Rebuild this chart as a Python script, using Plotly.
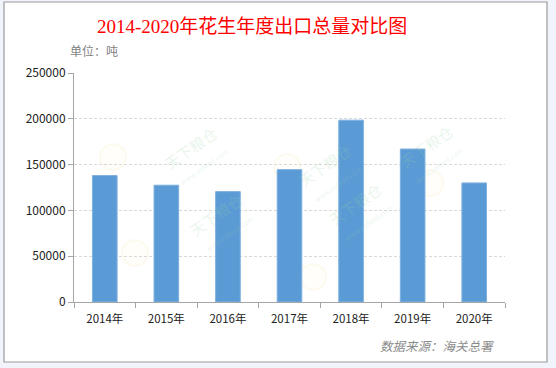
import plotly.graph_objects as go

years = ["2014年", "2015年", "2016年", "2017年", "2018年", "2019年", "2020年"]
exports = [138000, 127500, 120500, 144500, 198500, 167000, 130000]
y_ticks = [0, 50000, 100000, 150000, 200000, 250000]

W, H = 556, 368
L, R, T, B = 74, 505, 73, 302
pw, ph = R - L, B - T

def px(x):
    return (x - L) / pw

def py(y):
    return (B - y) / ph

fig = go.Figure()
fig.add_trace(go.Bar(
    x=years, y=exports,
    marker=dict(color="#5b9bd5", line=dict(color="#7fb0de", width=1)),
    width=0.4,
    hoverinfo="x+y",
))

shapes = [
    dict(type="rect", xref="paper", yref="paper",
         x0=px(4), x1=px(547), y0=py(362), y1=py(2),
         fillcolor="white", line=dict(color="#9a9a9a", width=1.2), layer="below"),
]

annotations = [
    dict(text="2014-2020年花生年度出口总量对比图", xref="paper", yref="paper",
         x=px(252), y=py(26), showarrow=False, xanchor="center", yanchor="middle",
         font=dict(family="Liberation Serif, Noto Sans CJK SC", size=19, color="#ff0000")),
    dict(text="单位：吨", xref="paper", yref="paper",
         x=px(68), y=py(50), showarrow=False, xanchor="left", yanchor="middle",
         font=dict(family="Noto Sans CJK SC", size=12, color="#7f7f7f")),
    dict(text="<i>数据来源：海关总署</i>", xref="paper", yref="paper",
         x=px(496), y=py(345), showarrow=False, xanchor="right", yanchor="middle",
         font=dict(family="Noto Sans CJK SC", size=12.5, color="#8c8c8c")),
]

# faint watermarks
marks = [(157, 120, 113, 157), (182, 222, 135, 253), (330, 137, 287, 167),
         (470, 153, 430, 183), (360, 247, 313, 277)]
for tx, ty, lx, ly in marks:
    annotations.append(dict(
        text="天下粮仓<br><span style='font-size:7px'>www.cofeed.com</span>",
        xref="paper", yref="paper", x=px(tx), y=py(ty), showarrow=False,
        textangle=-35, font=dict(family="Noto Sans CJK SC", size=15, color="rgba(150,210,160,0.22)")))
    shapes.append(dict(type="circle", xref="paper", yref="paper",
                       x0=px(lx - 13), x1=px(lx + 13), y0=py(ly + 13), y1=py(ly - 13),
                       line=dict(color="rgba(240,220,150,0.14)", width=2),
                       fillcolor="rgba(250,240,190,0.06)", layer="below"))

fig.update_layout(
    width=W, height=H,
    margin=dict(l=L, r=W - R, t=T, b=H - B, pad=0),
    paper_bgcolor="#f1f5fb",
    plot_bgcolor="rgba(0,0,0,0)",
    showlegend=False,
    bargap=0.6,
    shapes=shapes,
    annotations=annotations,
    font=dict(family="Noto Sans CJK SC, Liberation Sans", size=11, color="#333333"),
)
fig.update_xaxes(
    type="category", tickson="boundaries", ticks="outside", ticklen=5,
    tickcolor="#a6a6a6", showline=True, linecolor="#a6a6a6", linewidth=1,
    showgrid=False, tickfont=dict(size=11.5, color="#222222"), ticklabelstandoff=6,
)
fig.update_yaxes(
    range=[0, 250000], tickvals=y_ticks, ticktext=[str(v) for v in y_ticks],
    ticks="outside", ticklen=5, tickcolor="#a6a6a6",
    showline=True, linecolor="#a6a6a6", linewidth=1,
    showgrid=True, gridcolor="#d9d9d9", griddash="3px,2px", gridwidth=1,
    zeroline=False, tickfont=dict(size=12, color="#222222"),
)

fig.write_html("out.html", config={"displayModeBar": False},
               post_script="document.body.style.margin='0';")
